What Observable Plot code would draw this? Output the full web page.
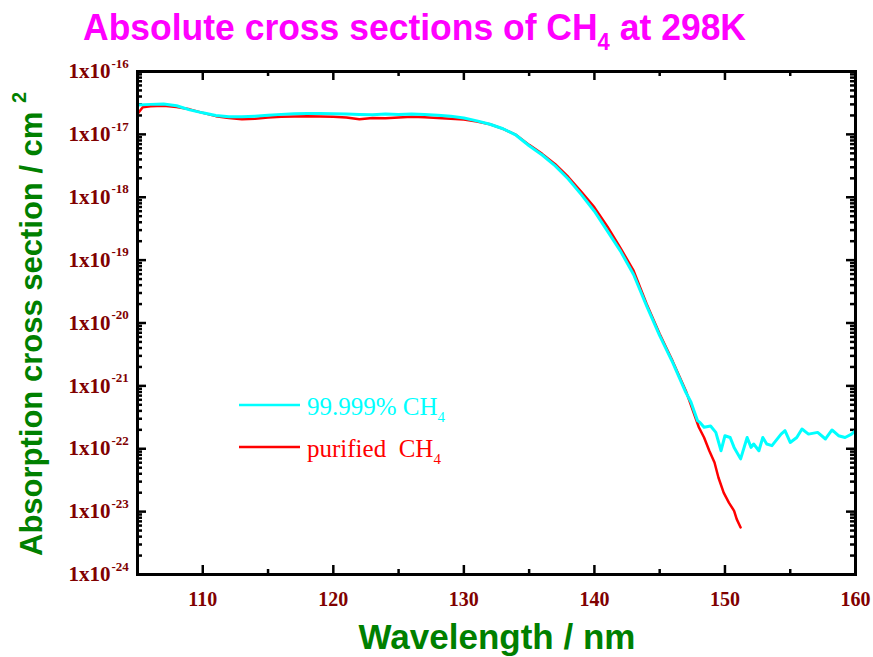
<!DOCTYPE html>
<html>
<head>
<meta charset="utf-8">
<script src="https://cdn.jsdelivr.net/npm/d3@7"></script>
<script src="https://cdn.jsdelivr.net/npm/@observablehq/plot@0.6"></script>
<style>
  html, body { margin: 0; padding: 0; background: #fff; }
  #chart svg { display: block; }
</style>
</head>
<body>
<div id="chart"></div>
<script>
// Absorption cross sections of CH4 at 298 K (cm^2) versus wavelength (nm)

// 99.999% CH4
const wlCyan = [105, 106, 107, 108, 109, 110, 111, 112, 113, 114, 115, 116, 117, 118, 119, 120,
  121, 122, 123, 124, 125, 126, 127, 128, 129, 130, 131, 132, 133, 134, 135, 136, 137, 138,
  139, 140, 141, 142, 143, 144, 145, 146, 147, 147.4, 147.9, 148.1, 148.4, 148.9, 149.3,
  149.7, 150.0, 150.4, 150.7, 151.2, 151.7, 152.0, 152.2, 152.6, 152.9, 153.2, 153.6, 154.3,
  154.6, 155.0, 155.5, 155.9, 156.4, 157.1, 157.7, 158.2, 158.7, 159.2, 159.7, 160];
const sigmaCyan = [2.92e-17, 3.0e-17, 3.05e-17, 2.85e-17, 2.45e-17, 2.2e-17, 2.0e-17, 1.9e-17,
  1.9e-17, 1.95e-17, 2.02e-17, 2.08e-17, 2.12e-17, 2.15e-17, 2.14e-17, 2.12e-17, 2.1e-17,
  2.08e-17, 2.05e-17, 2.1e-17, 2.08e-17, 2.1e-17, 2.07e-17, 2.02e-17, 1.94e-17, 1.82e-17,
  1.64e-17, 1.45e-17, 1.23e-17, 9.7e-18, 6.6e-18, 4.7e-18, 3.16e-18, 1.95e-18, 1.1e-18,
  6.0e-19, 2.9e-19, 1.39e-19, 5.9e-20, 1.87e-20, 6.3e-21, 2.35e-21, 7.9e-22, 5.5e-22, 2.8e-22,
  2.6e-22, 2.2e-22, 2.3e-22, 1.82e-22, 9.3e-23, 1.61e-22, 1.51e-22, 1.05e-22, 6.9e-23,
  1.51e-22, 1.05e-22, 1.19e-22, 9.3e-23, 1.51e-22, 1.19e-22, 1.12e-22, 1.71e-22, 1.94e-22,
  1.26e-22, 1.51e-22, 2.06e-22, 1.71e-22, 1.82e-22, 1.43e-22, 1.99e-22, 1.61e-22, 1.51e-22,
  1.71e-22, 1.94e-22];

// purified CH4
const wlRed = [105, 105.4, 106, 107, 108, 109, 110, 111, 112, 113, 114, 115, 116, 117, 118, 119,
  120, 121, 122, 123, 124, 125, 126, 127, 128, 129, 130, 131, 132, 133, 134, 135, 136, 137,
  138, 139, 140, 141, 142, 143, 144, 145, 146, 147, 148, 148.4, 148.8, 149.2, 149.5, 149.9,
  150.3, 150.7, 150.9, 151.2];
const sigmaRed = [2.1e-17, 2.7e-17, 2.8e-17, 2.85e-17, 2.72e-17, 2.5e-17, 2.2e-17, 1.95e-17,
  1.82e-17, 1.74e-17, 1.78e-17, 1.85e-17, 1.9e-17, 1.93e-17, 1.95e-17, 1.93e-17, 1.9e-17,
  1.86e-17, 1.74e-17, 1.82e-17, 1.8e-17, 1.85e-17, 1.9e-17, 1.87e-17, 1.82e-17, 1.78e-17,
  1.72e-17, 1.6e-17, 1.45e-17, 1.22e-17, 9.8e-18, 6.8e-18, 4.9e-18, 3.35e-18, 2.1e-18,
  1.22e-18, 6.9e-19, 3.4e-19, 1.55e-19, 6.8e-20, 2.0e-20, 6.7e-21, 2.45e-21, 8.4e-22, 2.2e-22,
  1.51e-22, 9.3e-23, 6.05e-23, 3.49e-23, 2.01e-23, 1.39e-23, 1.03e-23, 7.6e-24, 5.6e-24];

// Axis ticks
const xMajor = [110, 120, 130, 140, 150, 160];
const xMinor = [105, 115, 125, 135, 145, 155];
const yExponents = [-24, -23, -22, -21, -20, -19, -18, -17, -16];
const yMajor = yExponents.map(e => Math.pow(10, e));
const yMinor = yExponents.slice(0, -1).flatMap(e => d3.range(2, 10).map(k => k * Math.pow(10, e)));

const seriesNames = ["99.999% CH", "purified  CH"];
const seriesColors = ["#00ffff", "#ff0000"];

const W = 873, H = 657;
const mL = 137, mR = 18, mT = 71, mB = 83;
const fW = W - mL - mR, fH = H - mT - mB;
const majorLen = 9, minorLen = 5;

const red = wlRed.map((w, i) => ({w, s: sigmaRed[i]}));
const cyan = wlCyan.map((w, i) => ({w, s: sigmaCyan[i]}));

const tickStyle = {stroke: "#000", strokeWidth: 2.5};
const serif = "'Liberation Serif', 'Times New Roman', serif";
const sans = "'Liberation Sans', Arial, sans-serif";

const chart = Plot.plot({
  width: W, height: H,
  marginLeft: mL, marginRight: mR, marginTop: mT, marginBottom: mB,
  x: {domain: [105, 160], axis: null},
  y: {type: "log", domain: [1e-24, 1e-16], axis: null},
  marks: [
    // inward ticks on all four sides
    Plot.tickX(xMajor, {x: d => d, insetTop: fH - majorLen, ...tickStyle}),
    Plot.tickX(xMajor, {x: d => d, insetBottom: fH - majorLen, ...tickStyle}),
    Plot.tickX(xMinor, {x: d => d, insetTop: fH - minorLen, ...tickStyle}),
    Plot.tickX(xMinor, {x: d => d, insetBottom: fH - minorLen, ...tickStyle}),
    Plot.tickY(yMajor, {y: d => d, insetRight: fW - majorLen, ...tickStyle}),
    Plot.tickY(yMajor, {y: d => d, insetLeft: fW - majorLen, ...tickStyle}),
    Plot.tickY(yMinor, {y: d => d, insetRight: fW - minorLen, ...tickStyle}),
    Plot.tickY(yMinor, {y: d => d, insetLeft: fW - minorLen, ...tickStyle}),
    // tick labels
    Plot.text(xMajor, {x: d => d, frameAnchor: "bottom", dy: 31, text: d => String(d),
      fill: "#800000", fontSize: 20, fontWeight: "bold", fontFamily: serif}),
    Plot.text(yMajor, {y: d => d, frameAnchor: "left", dx: -27, textAnchor: "end", text: () => "1x10",
      fill: "#800000", fontSize: 21, fontWeight: "bold", fontFamily: serif}),
    Plot.text(yMajor, {y: d => d, frameAnchor: "left", dx: -26, dy: -8, textAnchor: "start",
      text: d => String(Math.round(Math.log10(d))),
      fill: "#800000", fontSize: 13, fontWeight: "bold", fontFamily: serif}),
    // data
    Plot.line(red, {x: "w", y: "s", stroke: seriesColors[1], strokeWidth: 2.5}),
    Plot.line(cyan, {x: "w", y: "s", stroke: seriesColors[0], strokeWidth: 3}),
    Plot.frame({stroke: "#000", strokeWidth: 3})
  ]
});

document.getElementById("chart").appendChild(chart);

const svg = d3.select(chart);

// title
const title = svg.append("text")
  .attr("x", 83).attr("y", 40)
  .attr("text-anchor", "start")
  .attr("textLength", 663)
  .attr("lengthAdjust", "spacingAndGlyphs")
  .attr("fill", "#ff00ff")
  .style("font", `bold 37px ${sans}`);
title.append("tspan").text("Absolute cross sections of CH");
title.append("tspan").attr("dy", 10).style("font-size", "23px").text("4");
title.append("tspan").attr("dy", -10).text(" at 298K");

// x axis title
svg.append("text")
  .attr("x", 497).attr("y", 649)
  .attr("text-anchor", "middle")
  .attr("fill", "#008000")
  .style("font", `bold 35px ${sans}`)
  .text("Wavelength / nm");

// y axis title
const yTitle = svg.append("text")
  .attr("transform", "translate(42,556) rotate(-90)")
  .attr("text-anchor", "start")
  .attr("fill", "#008000")
  .style("font", `bold 31px ${sans}`);
yTitle.append("tspan").text("Absorption cross section / cm ");
yTitle.append("tspan").attr("dy", -16).style("font-size", "20px").text("2");

// legend
const legend = svg.append("g").attr("text-anchor", "start");
[405, 447].forEach((ly, i) => {
  legend.append("line")
    .attr("x1", 239).attr("x2", 300).attr("y1", ly).attr("y2", ly)
    .attr("stroke", seriesColors[i]).attr("stroke-width", 2.5);
  const t = legend.append("text")
    .attr("x", 307).attr("y", ly + 10)
    .attr("text-anchor", "start")
    .attr("fill", seriesColors[i])
    .attr("xml:space", "preserve")
    .style("white-space", "pre")
    .style("font", `25px ${serif}`);
  t.append("tspan").text(seriesNames[i]);
  t.append("tspan").attr("dy", 7).style("font-size", "15px").text("4");
});
</script>
</body>
</html>
